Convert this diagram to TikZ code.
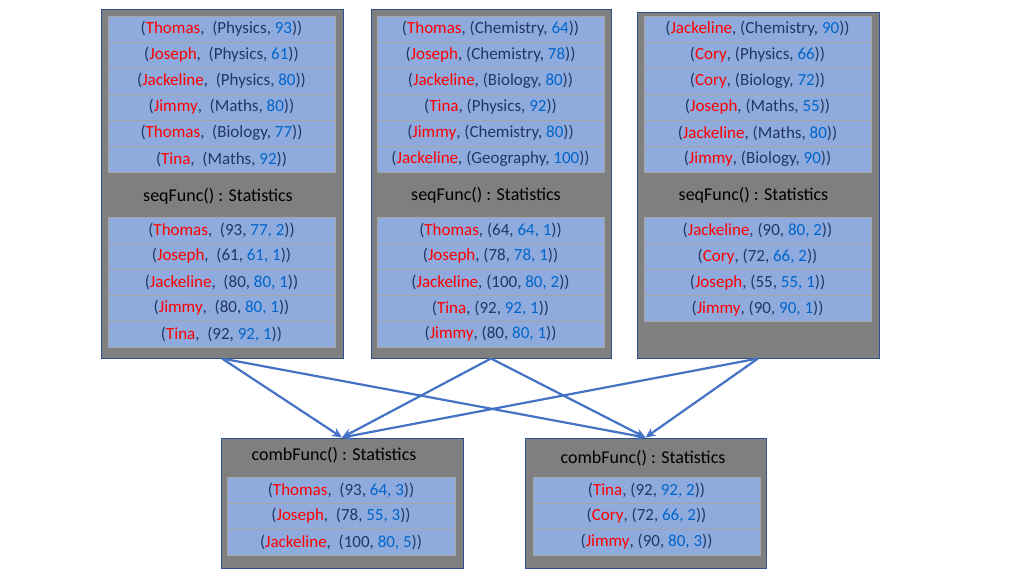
\documentclass[tikz,border=0pt]{standalone}
\usepackage{fontspec}
\setmainfont{Carlito}
\usetikzlibrary{arrows.meta}
\definecolor{boxgray}{HTML}{7F7F7F}
\definecolor{edgeblue}{HTML}{2F528F}
\definecolor{rowblue}{HTML}{8FAADC}
\definecolor{rowedge}{HTML}{A5A5A5}
\definecolor{darknavy}{HTML}{1F3864}
\definecolor{numblue}{HTML}{0066CC}
\definecolor{namered}{HTML}{FF0000}
\definecolor{linkblue}{HTML}{4472C4}
\newcommand\nmr[1]{\textcolor{namered}{#1}}
\newcommand\nmb[1]{\textcolor{numblue}{#1}}
\begin{document}
\begin{tikzpicture}[x=1pt,y=-1pt,
  outerbox/.style={draw=edgeblue, line width=1pt, fill=boxgray, inner sep=0pt},
  rowbox/.style={draw=rowedge, line width=0.8pt, fill=rowblue, minimum width=227pt, minimum height=26pt, inner sep=0pt, text=darknavy, font=\fontsize{17}{19}\selectfont},
  titletext/.style={inner sep=0pt, text=black, font=\fontsize{18}{20}\selectfont},
  link/.style={draw=linkblue, line width=2.2pt, -{Stealth[length=10pt,width=9pt]}}]
\useasboundingbox (0,0) rectangle (1024,576);
% outer boxes
\node[outerbox, minimum width=242pt, minimum height=349pt] (s1) at (222,183.5) {};
\node[outerbox, minimum width=240pt, minimum height=349pt] (s2) at (491,183.5) {};
\node[outerbox, minimum width=242pt, minimum height=346pt] (s3) at (758,185) {};
\node[outerbox, minimum width=242pt, minimum height=130pt] (c1) at (342,503) {};
\node[outerbox, minimum width=241pt, minimum height=130pt] (c2) at (645.5,503) {};
% box 1
\node[rowbox] (a1) at (221.5,29) {(\nmr{Thomas},~ (Physics, \nmb{93}))};
\node[rowbox] (a2) at (221.5,55) {(\nmr{Joseph},~ (Physics, \nmb{61}))};
\node[rowbox] (a3) at (221.5,81) {(\nmr{Jackeline},~ (Physics, \nmb{80}))};
\node[rowbox] (a4) at (221.5,107) {(\nmr{Jimmy},~ (Maths, \nmb{80}))};
\node[rowbox] (a5) at (221.5,133) {(\nmr{Thomas},~ (Biology, \nmb{77}))};
\node[rowbox] (a6) at (221.5,159) {(\nmr{Tina},~ (Maths, \nmb{92}))};
\node[titletext] (t1) at (218,196) {seqFunc() : Statistics};
\node[rowbox] (ar1) at (221.5,230) {(\nmr{Thomas},~ (93, \nmb{77, 2}))};
\node[rowbox] (ar2) at (221.5,256) {(\nmr{Joseph},~ (61, \nmb{61, 1}))};
\node[rowbox] (ar3) at (221.5,282) {(\nmr{Jackeline},~ (80, \nmb{80, 1}))};
\node[rowbox] (ar4) at (221.5,308) {(\nmr{Jimmy},~ (80, \nmb{80, 1}))};
\node[rowbox] (ar5) at (221.5,334) {(\nmr{Tina},~ (92, \nmb{92, 1}))};
% box 2
\node[rowbox] (b1) at (490.5,29) {(\nmr{Thomas}, (Chemistry, \nmb{64}))};
\node[rowbox] (b2) at (490.5,55) {(\nmr{Joseph}, (Chemistry, \nmb{78}))};
\node[rowbox] (b3) at (490.5,81) {(\nmr{Jackeline}, (Biology, \nmb{80}))};
\node[rowbox] (b4) at (490.5,107) {(\nmr{Tina}, (Physics, \nmb{92}))};
\node[rowbox] (b5) at (490.5,133) {(\nmr{Jimmy}, (Chemistry, \nmb{80}))};
\node[rowbox] (b6) at (490.5,159) {(\nmr{Jackeline}, (Geography, \nmb{100}))};
\node[titletext] (t2) at (486,195) {seqFunc() : Statistics};
\node[rowbox] (br1) at (490.5,230) {(\nmr{Thomas}, (64, \nmb{64, 1}))};
\node[rowbox] (br2) at (490.5,256) {(\nmr{Joseph}, (78, \nmb{78, 1}))};
\node[rowbox] (br3) at (490.5,282) {(\nmr{Jackeline}, (100, \nmb{80, 2}))};
\node[rowbox] (br4) at (490.5,308) {(\nmr{Tina}, (92, \nmb{92, 1}))};
\node[rowbox] (br5) at (490.5,334) {(\nmr{Jimmy}, (80, \nmb{80, 1}))};
% box 3
\node[rowbox] (d1) at (757.5,29) {(\nmr{Jackeline}, (Chemistry, \nmb{90}))};
\node[rowbox] (d2) at (757.5,55) {(\nmr{Cory}, (Physics, \nmb{66}))};
\node[rowbox] (d3) at (757.5,81) {(\nmr{Cory}, (Biology, \nmb{72}))};
\node[rowbox] (d4) at (757.5,107) {(\nmr{Joseph}, (Maths, \nmb{55}))};
\node[rowbox] (d5) at (757.5,133) {(\nmr{Jackeline}, (Maths, \nmb{80}))};
\node[rowbox] (d6) at (757.5,159) {(\nmr{Jimmy}, (Biology, \nmb{90}))};
\node[titletext] (t3) at (753.5,195) {seqFunc() : Statistics};
\node[rowbox] (dr1) at (757.5,230.5) {(\nmr{Jackeline}, (90, \nmb{80, 2}))};
\node[rowbox] (dr2) at (757.5,256.5) {(\nmr{Cory}, (72, \nmb{66, 2}))};
\node[rowbox] (dr3) at (757.5,282.5) {(\nmr{Joseph}, (55, \nmb{55, 1}))};
\node[rowbox] (dr4) at (757.5,308.5) {(\nmr{Jimmy}, (90, \nmb{90, 1}))};
% combine box 1
\node[titletext] (t4) at (334,455) {combFunc() : Statistics};
\node[rowbox, minimum width=228pt] (e1) at (341,490) {(\nmr{Thomas},~ (93, \nmb{64, 3}))};
\node[rowbox, minimum width=228pt] (e2) at (341,516) {(\nmr{Joseph},~ (78, \nmb{55, 3}))};
\node[rowbox, minimum width=228pt] (e3) at (341,542) {(\nmr{Jackeline},~ (100, \nmb{80, 5}))};
% combine box 2
\node[titletext] (t5) at (643,458) {combFunc() : Statistics};
\node[rowbox] (f1) at (646.5,490) {(\nmr{Tina}, (92, \nmb{92, 2}))};
\node[rowbox] (f2) at (646.5,516) {(\nmr{Cory}, (72, \nmb{66, 2}))};
\node[rowbox] (f3) at (646.5,542) {(\nmr{Jimmy}, (90, \nmb{80, 3}))};
% links
\draw[link] (s1.south) -- (c1.north);
\draw[link] (s1.south) -- (c2.north);
\draw[link] (s2.south) -- (c1.north);
\draw[link] (s2.south) -- (c2.north);
\draw[link] (s3.south) -- (c1.north);
\draw[link] (s3.south) -- (c2.north);
\end{tikzpicture}
\end{document}
